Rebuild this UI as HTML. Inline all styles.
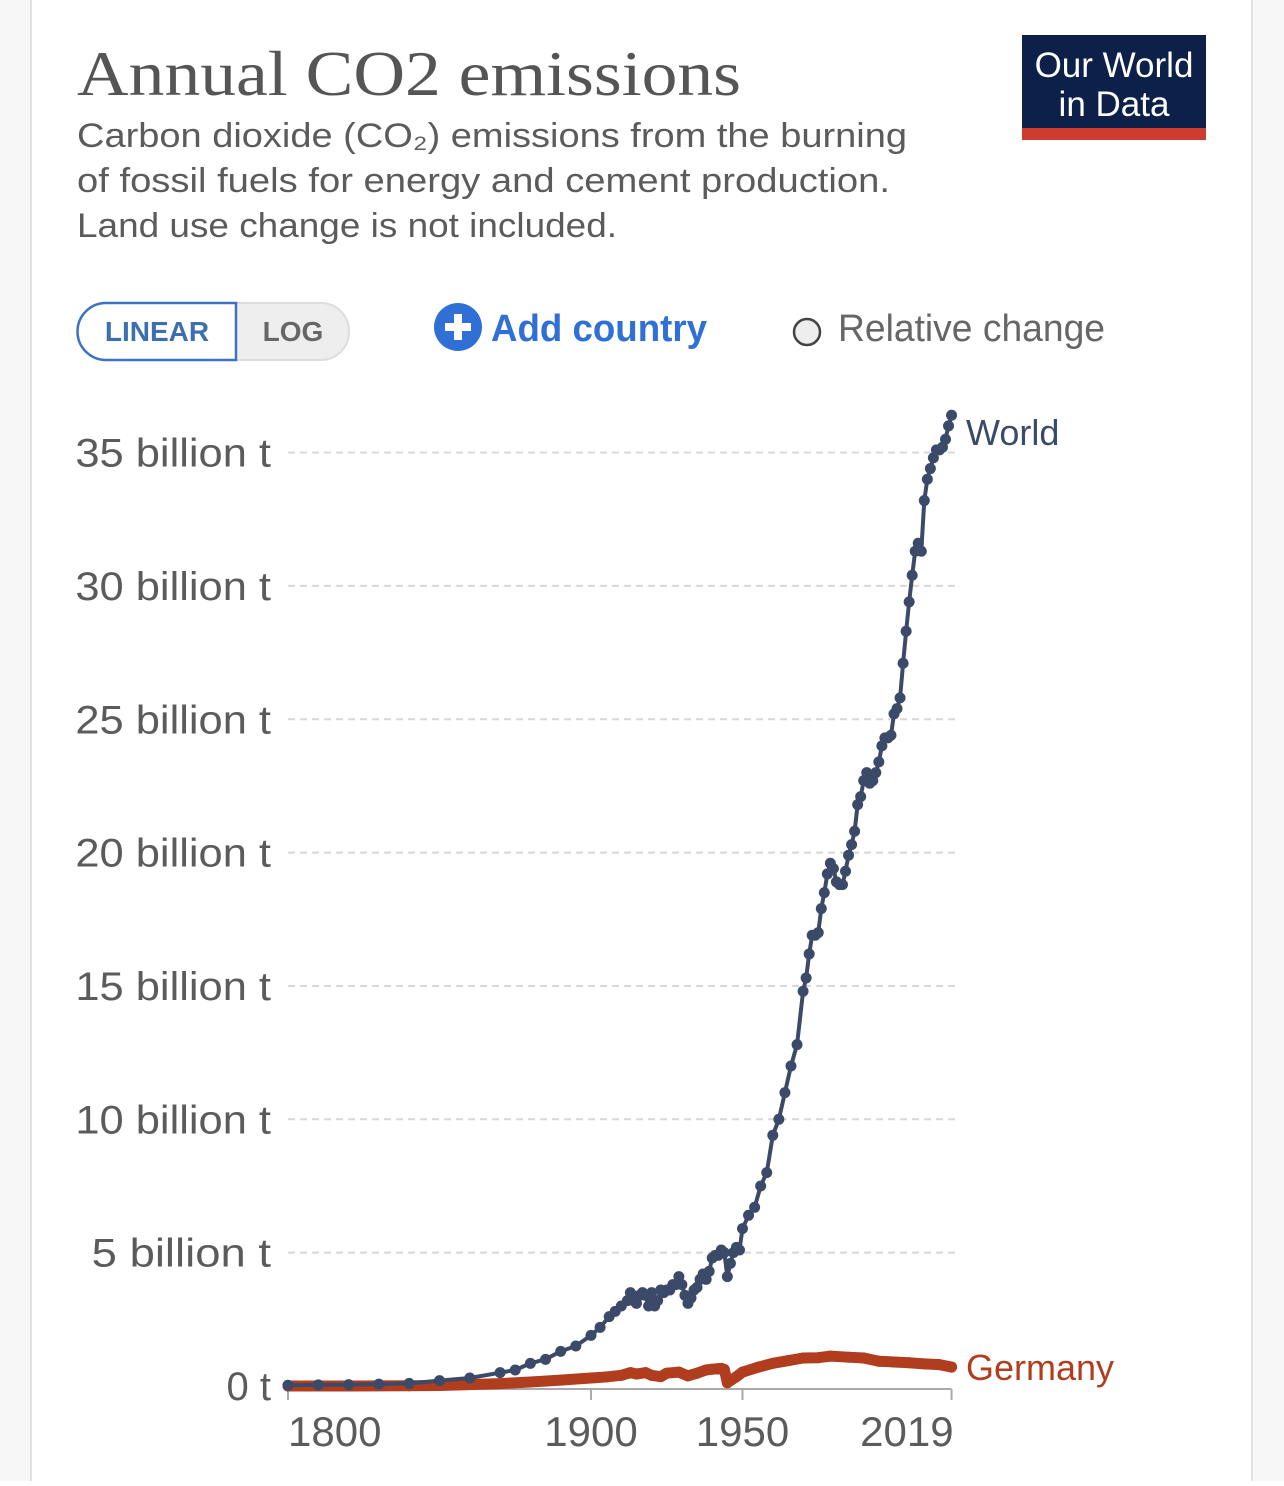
<!DOCTYPE html>
<html><head><meta charset="utf-8"><style>
body{margin:0;width:1284px;height:1481px;background:#fff;overflow:hidden;font-family:"Liberation Sans",sans-serif}
</style></head><body>
<svg width="1284" height="1481" xmlns="http://www.w3.org/2000/svg">
<rect x="0" y="0" width="1284" height="1481" fill="#f7f7f7"/>
<rect x="31" y="-2" width="1221" height="1490" fill="#fff" stroke="#e2e2e2" stroke-width="2"/>
<text x="77" y="95" font-family="Liberation Serif,serif" font-size="64" fill="#555" textLength="664" lengthAdjust="spacingAndGlyphs">Annual CO2 emissions</text>
<g font-size="34" fill="#5b5b5b">
<text x="77" y="147" textLength="830" lengthAdjust="spacingAndGlyphs">Carbon dioxide (CO₂) emissions from the burning</text>
<text x="77" y="192" textLength="813" lengthAdjust="spacingAndGlyphs">of fossil fuels for energy and cement production.</text>
<text x="77" y="237" textLength="540" lengthAdjust="spacingAndGlyphs">Land use change is not included.</text>
</g>
<g>
<rect x="1022" y="35" width="184" height="105" fill="#0c2049"/>
<rect x="1022" y="128" width="184" height="12" fill="#ce3b2f"/>
<text x="1114" y="77" text-anchor="middle" font-size="35" fill="#fff">Our World</text>
<text x="1114" y="116" text-anchor="middle" font-size="35" fill="#fff">in Data</text>
</g>
<g>
<rect x="78" y="303" width="271" height="57" rx="28" fill="#eee" stroke="#ddd" stroke-width="2"/>
<path d="M236,303 H106 A28,28 0 0 0 106,360 H236 Z" fill="#fff" stroke="#3b73c1" stroke-width="2.5"/>
<text x="157" y="341" text-anchor="middle" font-size="28" font-weight="bold" fill="#3b6fb0">LINEAR</text>
<text x="293" y="341" text-anchor="middle" font-size="28" font-weight="bold" fill="#666">LOG</text>
</g>
<g>
<circle cx="458" cy="327" r="24" fill="#2f6fd6"/>
<rect x="445" y="323" width="26" height="8" fill="#fff"/><rect x="454" y="314" width="8" height="26" fill="#fff"/>
<text x="491" y="341" font-size="38" font-weight="bold" fill="#2f6fd6" textLength="216" lengthAdjust="spacingAndGlyphs">Add country</text>
</g>
<g>
<circle cx="807" cy="332" r="13" fill="#eee" stroke="#444" stroke-width="2.5"/>
<text x="838" y="341" font-size="38" fill="#666" textLength="267" lengthAdjust="spacingAndGlyphs">Relative change</text>
</g>
<g id="grid"></g><g id="axes"></g><g id="series"></g>
</svg>
<script>
const yTicks=[0,5,10,15,20,25,30,35];
const yTickLabels=["0 t","5 billion t","10 billion t","15 billion t","20 billion t","25 billion t","30 billion t","35 billion t"];
const xTicks=[1800,1900,1950,2019];
const worldYears=[1800,1810,1820,1830,1840,1850,1860,1870,1875,1880,1885,1890,1895,1900,1903,1906,1908,1910,1912,1913,1914,1915,1916,1917,1918,1919,1920,1921,1922,1923,1924,1925,1926,1927,1928,1929,1930,1931,1932,1933,1934,1935,1936,1937,1938,1939,1940,1941,1942,1943,1944,1945,1946,1947,1948,1949,1950,1952,1954,1956,1958,1960,1962,1964,1966,1968,1970,1971,1972,1973,1974,1975,1976,1977,1978,1979,1980,1981,1982,1983,1984,1985,1986,1987,1988,1989,1990,1991,1992,1993,1994,1995,1996,1997,1998,1999,2000,2001,2002,2003,2004,2005,2006,2007,2008,2009,2010,2011,2012,2013,2014,2015,2016,2017,2018,2019];
const worldValues=[0.03,0.04,0.05,0.07,0.1,0.2,0.3,0.5,0.6,0.85,1.0,1.3,1.5,1.9,2.2,2.6,2.8,3.0,3.2,3.5,3.2,3.1,3.4,3.5,3.4,3.0,3.5,3.0,3.2,3.6,3.5,3.6,3.6,3.8,3.8,4.1,3.8,3.4,3.1,3.3,3.6,3.7,4.0,4.2,4.0,4.3,4.8,4.9,4.9,5.1,5.0,4.1,4.6,5.0,5.2,5.1,5.9,6.4,6.7,7.5,8.0,9.4,10.0,11.0,12.0,12.8,14.8,15.3,16.2,16.9,16.9,17.0,17.9,18.5,19.2,19.6,19.4,18.9,18.8,18.8,19.3,19.9,20.3,20.8,21.8,22.1,22.7,23.0,22.6,22.7,23.0,23.4,24.0,24.3,24.3,24.4,25.2,25.4,25.8,27.1,28.3,29.4,30.4,31.3,31.6,31.3,33.2,34.0,34.4,34.8,35.1,35.1,35.2,35.5,36.0,36.4];
const germanyYears=[1800,1820,1840,1850,1860,1870,1880,1890,1900,1905,1910,1913,1915,1918,1920,1923,1925,1929,1932,1935,1938,1940,1943,1944,1945,1946,1948,1950,1955,1960,1965,1970,1975,1979,1985,1990,1995,2000,2005,2010,2015,2019];
const germanyValues=[0.0,0.002,0.01,0.02,0.05,0.09,0.15,0.22,0.3,0.34,0.4,0.5,0.45,0.5,0.4,0.35,0.48,0.52,0.38,0.48,0.6,0.63,0.66,0.62,0.12,0.2,0.35,0.52,0.7,0.85,0.95,1.05,1.06,1.12,1.08,1.05,0.93,0.9,0.87,0.83,0.8,0.71];
const NS="http://www.w3.org/2000/svg";
const X0=288,PXY=3.03,Y0=1386,PXV=26.67;
function sx(y){return X0+(y-1800)*PXY}
function sy(v){return Y0-v*PXV}
function mk(t,a,p){const e=document.createElementNS(NS,t);for(const k in a)e.setAttribute(k,a[k]);(p||document.getElementById('series')).appendChild(e);return e}
const grid=document.getElementById('grid'),axes=document.getElementById('axes');
yTicks.forEach((v,i)=>{
 if(v>0){const l=mk('line',{x1:X0,x2:955,y1:sy(v),y2:sy(v),stroke:'#d8d8d8','stroke-width':2,'stroke-dasharray':'7,5'},grid);
 
 }
 const lab=yTickLabels[i];
 const t=mk('text',{x:271,y:sy(v)+14,'text-anchor':'end','font-size':40,fill:'#5b5b5b'},axes);t.textContent=lab;
 if(lab.length>4){t.setAttribute('textLength',lab.length*16.3);t.setAttribute('lengthAdjust','spacingAndGlyphs');}
 
 
});
const ax=mk('line',{x1:X0,x2:sx(2019),y1:Y0+3,y2:Y0+3,stroke:'#aaa','stroke-width':2},axes);


xTicks.forEach((y,i)=>{
 const tk=mk('line',{x1:sx(y),x2:sx(y),y1:Y0+3,y2:Y0+14,stroke:'#aaa','stroke-width':2},axes);
 
 
 const t=mk('text',{x:i==0?sx(y):(i==xTicks.length-1?sx(y)+2:sx(y)),y:1446,'text-anchor':i==0?'start':(i==xTicks.length-1?'end':'middle'),'font-size':42,fill:'#5b5b5b'},axes);
 t.textContent=y;
 
 
});
function series(ys,vs,col,name,r,w){
 const g=mk('g',{});
 
 
 const p=mk('path',{d:ys.map((y,i)=>(i?'L':'M')+sx(y)+','+sy(vs[i])).join(''),fill:'none',stroke:col,'stroke-width':w,'stroke-linejoin':'round','stroke-linecap':'round'},g);
 
 
 ys.forEach((y,i)=>{const c=mk('circle',{cx:sx(y),cy:sy(vs[i]),r:r,fill:col},g);
 
 });
}
series(germanyYears,germanyValues,'#b13d1f','germany',5.5,11);
series(worldYears,worldValues,'#3b4a68','world',5.5,4);
const lw=mk('text',{x:966,y:445,'font-size':36,fill:'#3b4a68'});lw.textContent='World';


const lg=mk('text',{x:966,y:1380,'font-size':36,fill:'#b13d1f'});lg.textContent='Germany';


</script>
</body></html>
